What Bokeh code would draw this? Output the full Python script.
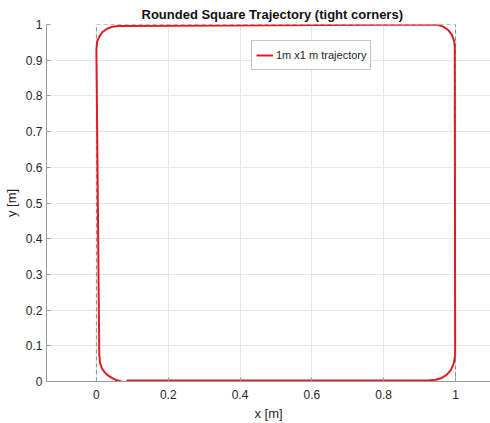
from bokeh.plotting import figure
from bokeh.models import Range1d, FixedTicker, Legend, LegendItem
from bokeh.embed import file_html
from bokeh.resources import INLINE

# ---- data ----
traj_x = [0.084, 0.925, 0.945, 0.962, 0.976, 0.987, 0.995, 0.999,
          0.998, 0.996, 0.990, 0.980, 0.966, 0.950, 0.930,
          0.062, 0.045, 0.030, 0.017, 0.008, 0.002, 0.000,
          0.008, 0.010, 0.015, 0.022, 0.031, 0.042, 0.055, 0.068, 0.080]
traj_y = [0.003, 0.003, 0.005, 0.010, 0.019, 0.032, 0.050, 0.073,
          0.937, 0.955, 0.971, 0.984, 0.994, 0.999, 1.000,
          0.996, 0.994, 0.988, 0.979, 0.966, 0.952, 0.930,
          0.075, 0.052, 0.038, 0.027, 0.018, 0.011, 0.004, 0.000, -0.003]

ref_x = [0, 1, 1, 0, 0]
ref_y = [0, 0, 1, 1, 0]

x_ticks = [0, 0.2, 0.4, 0.6, 0.8, 1.0]
x_tick_labels = ["0", "0.2", "0.4", "0.6", "0.8", "1"]
y_ticks = [0, 0.1, 0.2, 0.3, 0.4, 0.5, 0.6, 0.7, 0.8, 0.9, 1.0]
y_tick_labels = ["0", "0.1", "0.2", "0.3", "0.4", "0.5", "0.6", "0.7", "0.8", "0.9", "1"]

title_text = "Rounded Square Trajectory (tight corners)"
legend_label = "1m x1 m trajectory"
x_label = "x [m]"
y_label = "y [m]"

FONT = "Liberation Sans"
TXT = "#262626"

p = figure(width=490, height=423, output_backend="svg", toolbar_location=None,
           x_range=Range1d(-0.139, 1.0975), y_range=Range1d(0, 1),
           min_border_left=46, min_border_right=0, min_border_top=24,
           min_border_bottom=40)
p.outline_line_color = None
p.background_fill_color = "white"
p.border_fill_color = "white"

p.title.text = title_text
p.title.text_font = FONT
p.title.text_font_size = "13px"
p.title.text_font_style = "bold"
p.title.text_color = "#111111"
p.title.align = "left"
p.title.offset = 95
p.title.standoff = 6

# grid
for g in (p.xgrid, p.ygrid):
    g.grid_line_color = "#e6e6e6"
    g.grid_line_width = 1
p.xgrid.ticker = FixedTicker(ticks=x_ticks)
p.ygrid.ticker = FixedTicker(ticks=y_ticks)

# axes
p.xaxis.ticker = FixedTicker(ticks=x_ticks)
p.yaxis.ticker = FixedTicker(ticks=y_ticks)
p.xaxis.major_label_overrides = {t: l for t, l in zip(x_ticks, x_tick_labels)}
p.yaxis.major_label_overrides = {t: l for t, l in zip(y_ticks, y_tick_labels)}
for ax in (p.xaxis, p.yaxis):
    ax.axis_line_color = "#9a9a9a"
    ax.major_tick_line_color = "#9a9a9a"
    ax.major_tick_in = 4
    ax.major_tick_out = 0
    ax.minor_tick_line_color = None
    ax.major_label_text_font = FONT
    ax.major_label_text_font_size = "12px"
    ax.major_label_text_color = TXT
    ax.axis_label_text_font = FONT
    ax.axis_label_text_font_size = "13px"
    ax.axis_label_text_font_style = "normal"
    ax.axis_label_text_color = TXT
p.xaxis.axis_label = x_label
p.yaxis.axis_label = y_label
p.xaxis.major_label_standoff = 8
p.yaxis.major_label_standoff = 4
p.xaxis.axis_label_standoff = 4
p.yaxis.axis_label_standoff = 4

# reference square
p.line(ref_x, ref_y, line_color="#8c8c8c", line_width=1, line_dash="4 3")
# trajectory
r = p.line(traj_x, traj_y, line_color="#dd1c24", line_width=2)

legend = Legend(items=[LegendItem(label=legend_label, renderers=[r])],
                location=(205, 311), padding=4, margin=0, spacing=0,
                glyph_width=17, glyph_height=20, label_height=20,
                label_standoff=3, label_text_font=FONT,
                label_text_font_size="11px", label_text_color=TXT,
                border_line_color="#8a8a8a", border_line_width=1,
                background_fill_color="white", background_fill_alpha=1)
p.add_layout(legend)

open("out.html", "w").write(file_html(p, INLINE))
